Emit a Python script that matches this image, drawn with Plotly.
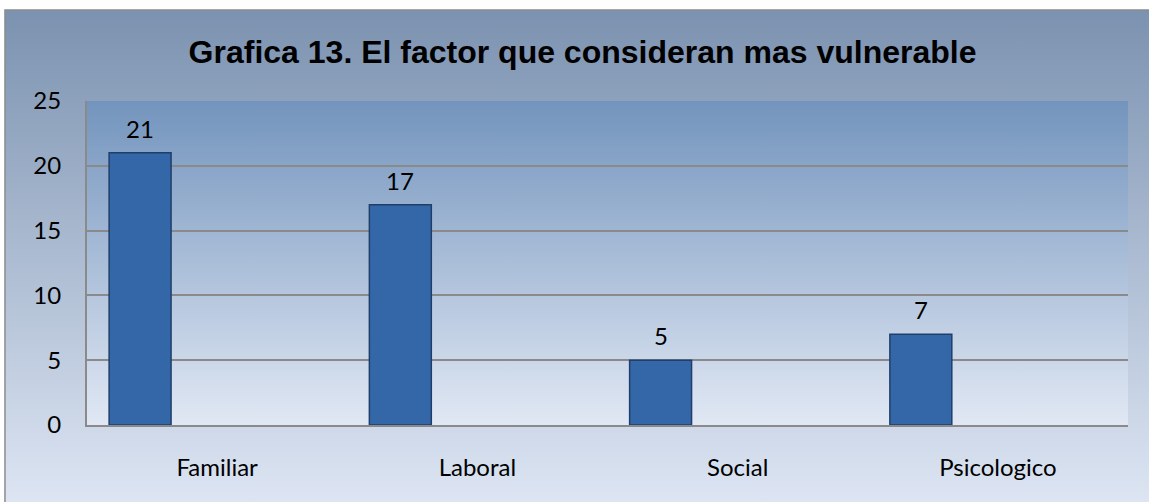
import base64
import plotly.graph_objects as go

# datos de la grafica
categorias = ["Familiar", "Laboral", "Social", "Psicologico"]
valores = [21, 17, 5, 7]
titulo = "Grafica 13. El factor que consideran mas vulnerable"
y_ticks = [0, 5, 10, 15, 20, 25]


def gradient_uri(top, bottom):
    svg = (
        '<svg xmlns="http://www.w3.org/2000/svg" width="100" height="100" preserveAspectRatio="none">'
        '<defs><linearGradient id="g" x1="0" y1="0" x2="0" y2="1">'
        f'<stop offset="0" stop-color="{top}"/><stop offset="1" stop-color="{bottom}"/>'
        '</linearGradient></defs><rect width="100" height="100" fill="url(#g)"/></svg>'
    )
    return "data:image/svg+xml;base64," + base64.b64encode(svg.encode()).decode()


fig = go.Figure()
fig.add_trace(go.Bar(
    x=categorias, y=valores,
    offset=-0.415, width=0.238,
    marker=dict(color="#3467a8", line=dict(color="#1f3f6a", width=1.5)),
    hoverinfo="x+y",
))

# etiquetas de datos sobre cada barra
for i, v in enumerate(valores):
    fig.add_annotation(x=i - 0.296, y=v, text=str(v), showarrow=False,
                       yanchor="bottom", yshift=8,
                       font=dict(family="Lato", size=24, color="black"))

# fondos con degradado (area del grafico y area de trazado)
fig.add_layout_image(source=gradient_uri("#7b92b0", "#dde5f3"), xref="paper", yref="paper",
                     x=-0.0788, y=1.2809, sizex=1.12, sizey=1.5186, sizing="stretch",
                     xanchor="left", yanchor="top", layer="below")
fig.add_layout_image(source=gradient_uri("#7394bd", "#e1e8f4"), xref="paper", yref="paper",
                     x=0, y=1, sizex=1, sizey=1, sizing="stretch",
                     xanchor="left", yanchor="top", layer="below")
fig.add_shape(type="rect", xref="paper", yref="paper", x0=-0.0788, y0=-0.3, x1=1.1, y1=1.2809,
              line=dict(color="#8c8c8c", width=1.5), fillcolor="rgba(0,0,0,0)", layer="below")

fig.update_layout(
    width=1149, height=502,
    margin=dict(l=87, r=21, t=101, b=77),
    paper_bgcolor="white", plot_bgcolor="rgba(0,0,0,0)",
    showlegend=False,
    title=dict(text=f"<b>{titulo}</b>", x=0.507, y=0.896, xref="container", yref="container",
               xanchor="center", yanchor="middle",
               font=dict(family="Liberation Sans", size=32, color="black")),
    font=dict(family="Lato", size=24, color="black"),
)
fig.update_xaxes(showline=True, linecolor="#8a8a8a", linewidth=2, showgrid=False,
                 ticks="", ticklabelstandoff=20, tickfont=dict(family="Lato", size=24))
fig.update_yaxes(range=[0, 25], tickvals=y_ticks, showline=True, linecolor="#8a8a8a", linewidth=2,
                 showgrid=True, gridcolor="#8a8a8a", gridwidth=1.5, zeroline=False,
                 ticks="", ticklabelstandoff=19, tickfont=dict(family="Lato", size=24))

fig.write_html("out.html", config={"displayModeBar": False},
               post_script="document.body.style.margin='0';")
